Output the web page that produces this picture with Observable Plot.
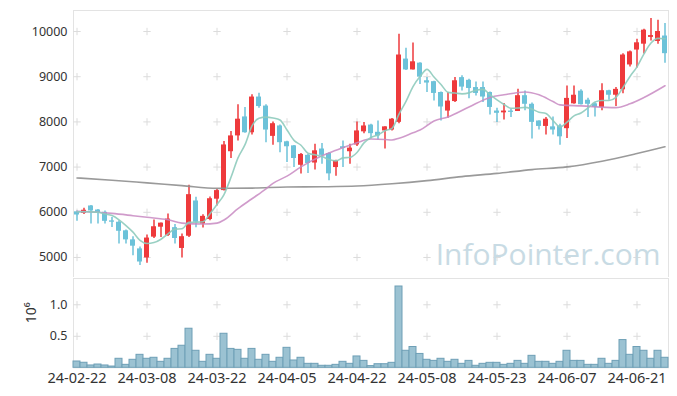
<!DOCTYPE html>
<html><head><meta charset="utf-8">
<script src="https://cdn.jsdelivr.net/npm/d3@7"></script>
<script src="https://cdn.jsdelivr.net/npm/@observablehq/plot@0.6"></script>
<style>
body{margin:0;background:#fff;}
#chart svg{display:block;}
#chart g[aria-label^="y-axis"] text{font-size:12.5px;}
#chart g[aria-label^="x-axis"] text{font-size:14.5px;}
</style></head><body><div id="chart"></div>
<script>
const dates = ["24-02-22","24-02-23","24-02-26","24-02-27","24-02-28","24-02-29","24-03-04","24-03-05","24-03-06","24-03-07",
"24-03-08","24-03-11","24-03-12","24-03-13","24-03-14","24-03-15","24-03-18","24-03-19","24-03-20","24-03-21",
"24-03-22","24-03-25","24-03-26","24-03-27","24-03-28","24-03-29","24-04-01","24-04-02","24-04-03","24-04-04",
"24-04-05","24-04-08","24-04-09","24-04-11","24-04-12","24-04-15","24-04-16","24-04-17","24-04-18","24-04-19",
"24-04-22","24-04-23","24-04-24","24-04-25","24-04-26","24-04-29","24-04-30","24-05-02","24-05-03","24-05-07",
"24-05-08","24-05-09","24-05-10","24-05-13","24-05-14","24-05-16","24-05-17","24-05-20","24-05-21","24-05-22",
"24-05-23","24-05-24","24-05-27","24-05-28","24-05-29","24-05-30","24-05-31","24-06-03","24-06-04","24-06-05",
"24-06-07","24-06-10","24-06-11","24-06-12","24-06-13","24-06-14","24-06-17","24-06-18","24-06-19","24-06-20",
"24-06-21","24-06-24","24-06-25","24-06-26","24-06-27"];

const open = [6010,5975,6140,6050,6000,5810,5780,5590,5390,5190,
4990,5450,5670,5490,5660,5200,5470,6250,5740,5840,
6290,6480,7340,7690,8110,7760,8550,8350,7680,7910,
7560,7470,7040,7260,7090,7400,7300,6990,7450,7340,
7490,7780,7930,7770,7800,7820,7990,9390,9150,9300,
8910,8890,8650,8240,8450,8980,8920,8760,8760,8650,
8240,8200,8240,8230,8580,8390,8020,7900,7890,7910,
7850,8400,8680,8480,8400,8320,8690,8590,8710,9260,
9590,9720,9870,9780,9900];
const high = [6030,6090,6150,6060,6030,5885,5810,5610,5460,5230,
5500,5830,5765,5960,5730,5520,6600,6330,5945,6340,
6510,7565,7790,8380,8320,8600,8635,8380,8000,7930,
7570,7480,7300,7285,7505,7520,7320,7150,7580,7505,
8000,7985,7950,8020,7890,8075,9940,9630,9745,9310,
8980,8900,8660,8650,8980,9020,8945,8885,8885,8660,
8300,8405,8280,8720,8685,8420,8025,8095,8110,7950,
8795,8795,8710,8525,8425,8845,8700,8760,9510,9570,
9830,10050,10290,10250,10180];
const low = [5800,5950,5740,5740,5740,5665,5300,5300,5040,4825,
4870,5420,5440,5465,5300,4990,5440,5660,5650,5810,
6140,6470,7190,7580,7750,7710,8300,7540,7485,7320,
7100,6990,6845,6860,6935,7065,6700,6800,6990,7065,
7455,7740,7620,7600,7400,7800,7960,9140,9150,8830,
8650,8460,8020,8080,8430,8685,8515,8575,8430,8150,
7985,8040,8095,8230,8245,7620,7820,7710,7710,7485,
7630,8390,8375,8095,8110,8245,8480,8340,8625,9215,
9190,9500,9790,9720,9300];
const close = [5940,6045,6030,5980,5800,5780,5580,5390,5250,4900,
5430,5680,5760,5850,5420,5460,6390,5780,5910,6300,
6480,7490,7690,8060,7760,8550,8340,7820,7960,7540,
7450,7190,7280,7080,7360,7260,6850,7140,7410,7420,
7800,7910,7740,7690,7890,8060,9480,9150,9330,8990,
8860,8630,8330,8460,8910,8770,8740,8630,8550,8320,
8190,8240,8210,8580,8390,7990,7900,8060,7820,7670,
8520,8590,8380,8390,8320,8690,8590,8720,9480,9550,
9750,10030,9910,10000,9510];
// volume, millions of shares
const volume = [0.10,0.08,0.037,0.052,0.037,0.02,0.143,0.047,0.127,0.206,
0.143,0.159,0.095,0.143,0.30,0.35,0.62,0.27,0.095,0.206,
0.143,0.54,0.30,0.285,0.143,0.30,0.127,0.206,0.095,0.159,
0.317,0.116,0.159,0.063,0.063,0.032,0.032,0.047,0.095,0.063,
0.18,0.11,0.027,0.057,0.057,0.079,1.29,0.27,0.33,0.22,
0.127,0.11,0.143,0.095,0.127,0.063,0.11,0.032,0.063,0.079,
0.079,0.047,0.063,0.11,0.063,0.19,0.095,0.095,0.063,0.095,
0.27,0.11,0.11,0.047,0.047,0.143,0.063,0.11,0.44,0.206,
0.33,0.27,0.143,0.27,0.159];
// 5-day moving average
const ma5 = [6011,6011,6010,6000,5960,5927,5834,5706,5560,5380,
5310,5330,5404,5524,5628,5634,5776,5780,5792,5968,
6172,6392,6774,7204,7496,7910,8080,8106,8086,8042,
7822,7592,7484,7308,7272,7234,7166,7138,7204,7216,
7324,7536,7656,7712,7806,7858,8172,8454,8782,9002,
9162,8992,8828,8654,8638,8620,8642,8702,8720,8602,
8486,8386,8302,8308,8322,8282,8214,8184,8032,7888,
7994,8132,8196,8310,8440,8474,8474,8542,8760,9006,
9218,9506,9744,9848,9840];
// 20-day moving average (read at sample days)
const ma20Day = [0,3,5,8,10,13,15,18,20,21,23,25,27,28,30,32,35,37,40,42,44,45,46,48,49,51,53,56,59,61,64,66,68,69,72,77,79,81,84];
const ma20Val = [6020,6000,5975,5925,5890,5835,5760,5740,5760,5830,6080,6300,6520,6640,6800,7005,7250,7370,7540,7620,7610,7600,7640,7760,7820,8020,8110,8330,8540,8600,8663,8600,8450,8376,8354,8316,8400,8540,8800];
// 120-day moving average (read at sample days)
const ma120Day = [0,5,10,15,20,25,30,35,40,45,50,55,60,65,70,75,80,84];
const ma120Val = [6760,6710,6650,6590,6530,6535,6560,6565,6580,6630,6700,6790,6860,6945,7005,7130,7300,7450];

const priceTicks = [5000,6000,7000,8000,9000,10000];
const volTicks = [0.5,1.0];
const xTicks = dates.filter((d,i) => i % 10 === 0);

const RED = "#ee3a3c", BLUE = "#6cc2d9";
const candles = dates.map((d,i) => ({date:d, open:open[i], high:high[i], low:low[i], close:close[i], up: close[i] >= open[i]}));
const ma5Data = dates.map((d,i) => ({date:d, v:ma5[i]}));
const ma20Data = ma20Day.map((k,i) => ({date:dates[k], v:ma20Val[i]}));
const ma120Data = ma120Day.map((k,i) => ({date:dates[k], v:ma120Val[i]}));
const volData = dates.map((d,i) => ({date:d, v:volume[i]}));
const gridTop = xTicks.flatMap(d => priceTicks.map(p => ({date:d, v:p})));
const gridVol = xTicks.flatMap(d => volTicks.map(p => ({date:d, v:p})));

const W = 677, ML = 73, MR = 9;
const style = {fontFamily:"'Noto Sans'", fontSize:"12.5px", color:"#333", background:"#fff"};

const topChart = Plot.plot({
  width: W, height: 277, marginLeft: ML, marginRight: MR, marginTop: 10, marginBottom: 0,
  style,
  x: {type:"band", domain: dates, padding: 0, axis: null},
  y: {domain: [4557, 10465], ticks: priceTicks, tickSize: 0, tickPadding: 6, label: null, tickFormat: d => String(d)},
  marks: [
    Plot.frame({stroke:"#e3e3e3"}),
    Plot.dot(gridTop, {x:"date", y:"v", symbol:"plus", r:2.5, stroke:"#dcdcdc", strokeWidth:1}),
    Plot.text(["InfoPointer.com"], {frameAnchor:"bottom-right", dx:-8, dy:-13, fontSize:30, fill:"#c8dbe4", fontFamily:"'Open Sans'"}),
    Plot.ruleX(candles, {x:"date", y1:"low", y2:"high", stroke: d => d.up ? RED : BLUE, strokeWidth:1.5}),
    Plot.barY(candles, {x:"date", y1:"open", y2:"close", fill: d => d.up ? RED : BLUE, insetLeft:1, insetRight:1}),
    Plot.line(ma120Data, {x:"date", y:"v", stroke:"#8f8f8f", strokeWidth:1.6, curve:"monotone-x", strokeOpacity:0.9}),
    Plot.line(ma20Data, {x:"date", y:"v", stroke:"#c889c2", strokeWidth:1.6, curve:"monotone-x", strokeOpacity:0.85}),
    Plot.line(ma5Data, {x:"date", y:"v", stroke:"#8ecbbd", strokeWidth:1.6, curve:"monotone-x", strokeOpacity:0.9})
  ]
});

const volChart = Plot.plot({
  width: W, height: 119, marginLeft: ML, marginRight: MR, marginTop: 1, marginBottom: 28.7,
  style,
  x: {type:"band", domain: dates, padding: 0, ticks: xTicks, tickSize: 0, tickPadding: 5, label: null},
  y: {domain: [0, 1.417], ticks: volTicks, tickFormat: d3.format(".1f"), tickSize: 0, tickPadding: 6, label: null},
  marks: [
    Plot.frame({stroke:"#e3e3e3"}),
    Plot.dot(gridVol, {x:"date", y:"v", symbol:"plus", r:2.5, stroke:"#dcdcdc", strokeWidth:1}),
    Plot.barY(volData, {x:"date", y:"v", fill:"#9bc2d2", stroke:"#6e9fb6", strokeWidth:1}),
    Plot.text(["10⁶"], {frameAnchor:"left", dx:-42, rotate:-90, fontSize:14, fill:"#333"})
  ]
});

const root = document.getElementById("chart");
root.appendChild(topChart);
root.appendChild(volChart);
</script></body></html>
